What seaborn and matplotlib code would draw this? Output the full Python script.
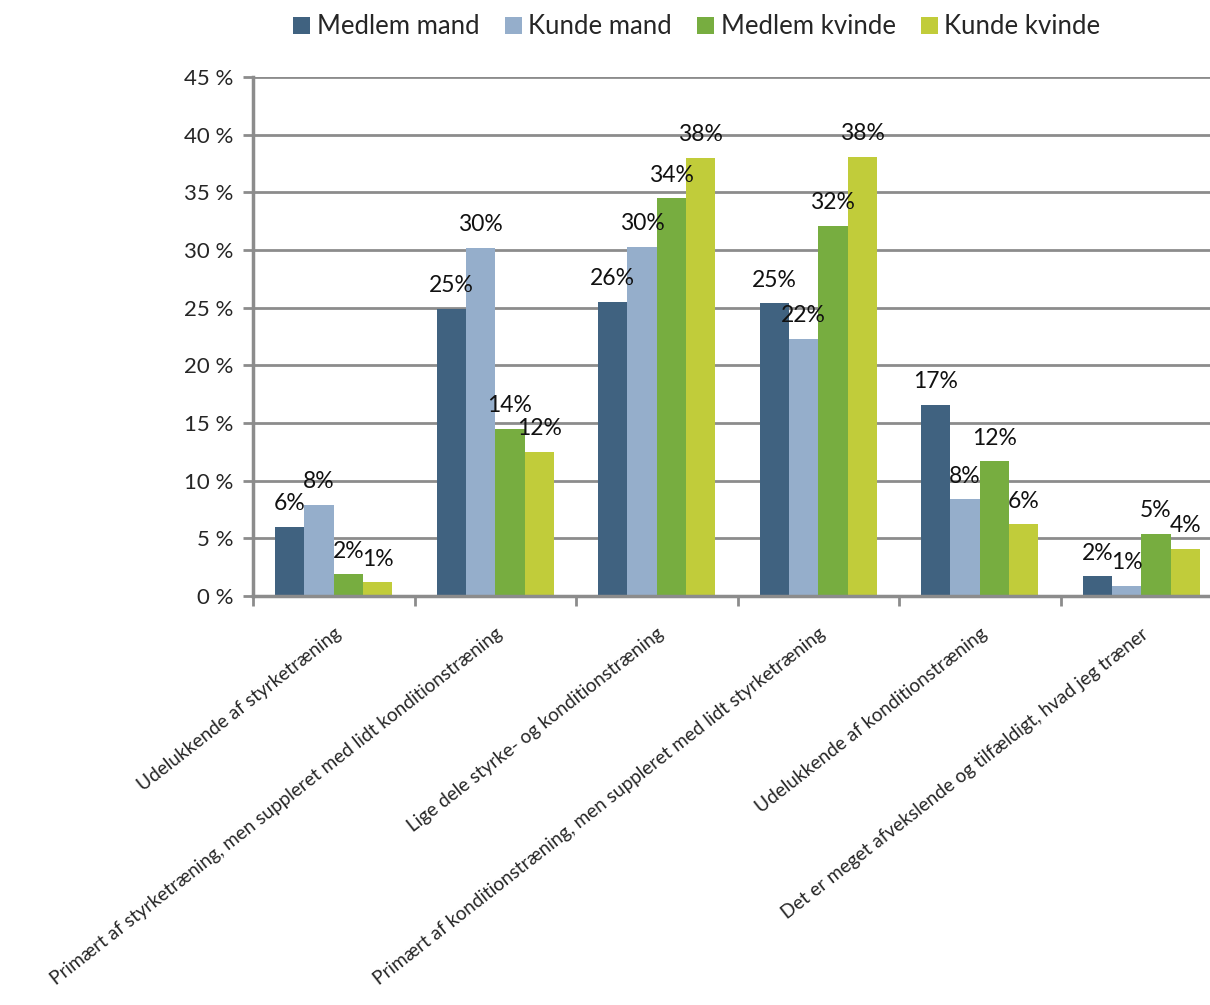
import matplotlib
matplotlib.use("Agg")
import matplotlib.pyplot as plt
import seaborn as sns
import pandas as pd
from matplotlib.ticker import FixedLocator

categories = [
    "Udelukkende af styrketræning",
    "Primært af styrketræning, men suppleret med lidt konditionstræning",
    "Lige dele styrke- og konditionstræning",
    "Primært af konditionstræning, men suppleret med lidt styrketræning",
    "Udelukkende af konditionstræning",
    "Det er meget afvekslende og tilfældigt, hvad jeg træner",
]
series = ["Medlem mand", "Kunde mand", "Medlem kvinde", "Kunde kvinde"]
medlem_mand = [6.0, 24.9, 25.5, 25.4, 16.6, 1.7]
kunde_mand = [7.9, 30.2, 30.3, 22.3, 8.4, 0.9]
medlem_kvinde = [1.9, 14.5, 34.5, 32.1, 11.7, 5.4]
kunde_kvinde = [1.2, 12.5, 38.0, 38.1, 6.2, 4.1]
yticks = [0, 5, 10, 15, 20, 25, 30, 35, 40, 45]
ytick_labels = ["0 %", "5 %", "10 %", "15 %", "20 %", "25 %", "30 %", "35 %", "40 %", "45 %"]
colors = ["#406280", "#95AECB", "#77AD40", "#C1CC3A"]

rows = []
for s, vals in zip(series, [medlem_mand, kunde_mand, medlem_kvinde, kunde_kvinde]):
    for c, v in zip(categories, vals):
        rows.append({"cat": c, "serie": s, "val": v})
df = pd.DataFrame(rows)

sns.set_theme(style="white")
plt.rcParams["font.family"] = ["Lato", "DejaVu Sans"]

fig = plt.figure(figsize=(12.1, 10.05), dpi=100)
ax = fig.add_axes([253 / 1210, 1 - 596 / 1005, (1222 - 253) / 1210, (596 - 77) / 1005])

sns.barplot(data=df, x="cat", y="val", hue="serie", order=categories, hue_order=series,
            palette=colors, width=0.725, gap=0, linewidth=0, saturation=1, ax=ax, legend=True)

for cont in ax.containers:
    ax.bar_label(cont, fmt="%.0f%%", padding=9, fontsize=16.5, color="#111111")

ax.set_ylim(0, 45)
ax.set_xlim(-0.5, 5.5)
ax.set_yticks(yticks)
ax.set_yticklabels(ytick_labels, fontsize=16)
ax.yaxis.grid(True, color="#8C8C8C", linewidth=2)
ax.set_axisbelow(True)
ax.tick_params(axis="y", left=True, length=7, width=2, color="#8C8C8C", pad=7)

ax.set_xticks(range(len(categories)))
ax.set_xticklabels(categories, rotation=38, ha="right", rotation_mode="anchor", fontsize=13.7)
ax.tick_params(axis="x", which="major", length=0, pad=21)
ax.xaxis.set_minor_locator(FixedLocator([i - 0.5 for i in range(len(categories) + 1)]))
ax.tick_params(axis="x", which="minor", bottom=True, length=7, width=2, color="#8C8C8C")

for side in ["top", "right"]:
    ax.spines[side].set_visible(False)
for side in ["left", "bottom"]:
    ax.spines[side].set_color("#8C8C8C")
    ax.spines[side].set_linewidth(2.5)

ax.set_xlabel("")
ax.set_ylabel("")

leg = ax.legend(loc="center", bbox_to_anchor=(697 / 1210, 1 - 27 / 1005),
                bbox_transform=fig.transFigure, ncol=4, frameon=False, fontsize=18.5,
                handlelength=0.65, handleheight=0.65, handletextpad=0.25, columnspacing=1.0)

fig.savefig("out.png", dpi=100)
